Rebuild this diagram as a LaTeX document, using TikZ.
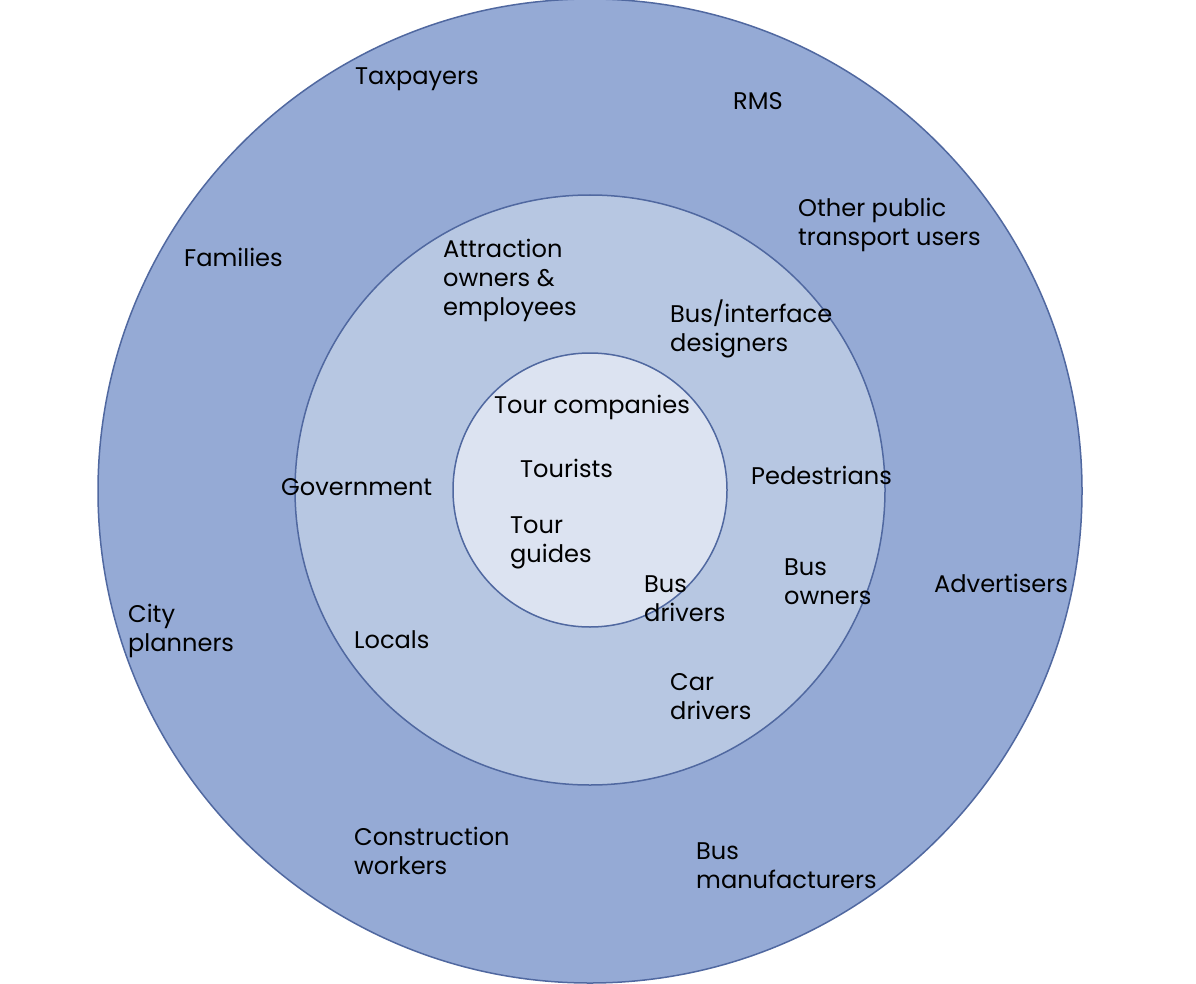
\documentclass[tikz,border=0pt]{standalone}
\usepackage{fontspec}
\setmainfont{Poppins}
\newcommand\mlines[1]{\vtop{\baselineskip=29pt\halign{##\hfil\cr#1\crcr}}}
\definecolor{ringout}{HTML}{95AAD5}
\definecolor{ringmid}{HTML}{B7C7E2}
\definecolor{ringin}{HTML}{DCE3F1}
\definecolor{ringline}{HTML}{5068A0}
\begin{document}
\begin{tikzpicture}[x=1pt,y=-1pt,
  ring/.style={draw=ringline,line width=1.5pt},
  lbl/.style={anchor=base west,inner sep=0pt,font=\fontsize{24.1}{29}\selectfont,text=black}]
\useasboundingbox (0,0) rectangle (1196,984);
\fill[white] (0,0) rectangle (1196,984);
\node[ring,fill=ringout,circle,minimum size=984pt,inner sep=0pt] (outer) at (590,491) {};
\node[ring,fill=ringmid,circle,minimum size=590pt,inner sep=0pt] (middle) at (590,490) {};
\node[ring,fill=ringin,circle,minimum size=274pt,inner sep=0pt] (inner) at (590,490) {};
% outer ring
\node[lbl] (tax) at (355,85) {Taxpayers};
\node[lbl] (rms) at (733,110) {RMS};
\node[lbl] (other) at (798,217) {\mlines{Other public\cr transport users}};
\node[lbl] (fam) at (184,267) {Families};
\node[lbl] (adv) at (934,592) {Advertisers};
\node[lbl] (city) at (128,622) {\mlines{City\cr planners}};
\node[lbl] (constr) at (354,845) {\mlines{Construction\cr workers}};
\node[lbl] (busman) at (696,859) {\mlines{Bus\cr manufacturers}};
% middle ring
\node[lbl] (attr) at (443,258) {\mlines{Attraction\cr owners \&\cr employees}};
\node[lbl] (busint) at (670,322) {\mlines{Bus/interface\cr designers}};
\node[lbl] (ped) at (751,484) {Pedestrians};
\node[lbl] (gov) at (281,495) {Government};
\node[lbl] (loc) at (354,648) {Locals};
\node[lbl] (busown) at (784,575) {\mlines{Bus\cr owners}};
\node[lbl] (car) at (670,690) {\mlines{Car\cr drivers}};
\node[lbl] (busdrv) at (644,592) {\mlines{Bus\cr drivers}};
% inner circle
\node[lbl] (tourco) at (494,413) {Tour companies};
\node[lbl] (tourist) at (520,477) {Tourists};
\node[lbl] (guides) at (510,533) {\mlines{Tour\cr guides}};
\end{tikzpicture}
\end{document}
